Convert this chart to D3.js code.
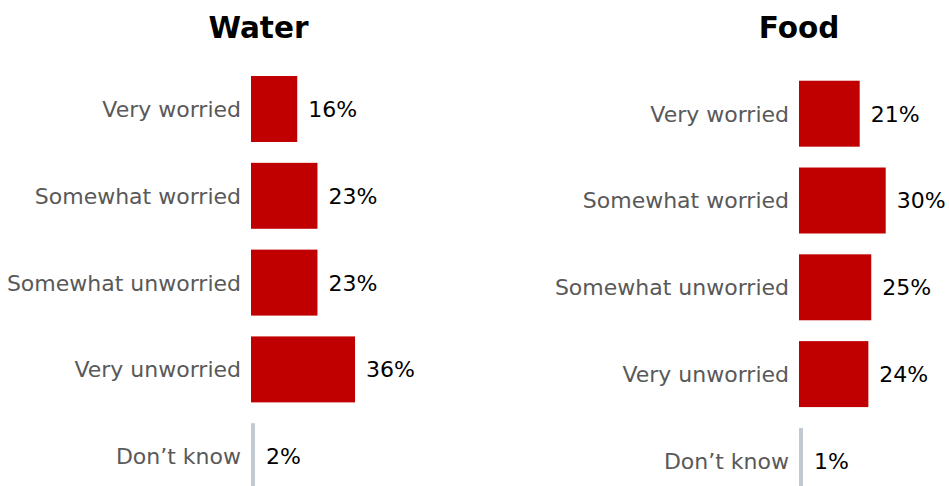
<!DOCTYPE html>
<html>
<head>
<meta charset="utf-8">
<script src="https://cdn.jsdelivr.net/npm/d3@7"></script>
<style>
  html, body { margin: 0; padding: 0; background: #ffffff; }
  svg { display: block; }
</style>
</head>
<body>
<svg id="chart" width="949" height="486"></svg>
<script>
// ---- data ----
const categories = ["Very worried", "Somewhat worried", "Somewhat unworried", "Very unworried", "Don\u2019t know"];
const panelTitles = ["Water", "Food"];
const waterValues = [16, 23, 23, 36, 2];
const foodValues = [21, 30, 25, 24, 1];

// ---- layout / style ----
const W = 949, H = 486;
const svg = d3.select("#chart");
const barColor = "#C00000";
const dkColor = "#C3C9D0";
const labelColor = "#595959";
const fontFamily = "'DejaVu Sans', Verdana, sans-serif";

const panels = [
  { title: panelTitles[0], values: waterValues, x0: 251, top: 65.6, titleX: 258.5 },
  { title: panelTitles[1], values: foodValues,  x0: 799, top: 70.3, titleX: 799 }
];

const pxPerPct = 2.89;
const step = 86.8;

panels.forEach(p => {
  const g = svg.append("g");
  const x = d3.scaleLinear().domain([0, 100]).range([p.x0, p.x0 + 100 * pxPerPct]);
  const y = d3.scaleBand().domain(categories)
    .range([p.top, p.top + categories.length * step])
    .paddingInner(0.24).paddingOuter(0.12);

  g.append("text")
    .attr("x", p.titleX).attr("y", 38)
    .attr("text-anchor", "middle")
    .attr("font-family", fontFamily)
    .attr("font-weight", "bold")
    .attr("font-size", 29.5)
    .attr("fill", "#000")
    .text(p.title);

  const data = categories.map((c, i) => ({ cat: c, v: p.values[i], dk: i === categories.length - 1 }));

  g.selectAll("rect.bar").data(data).enter().append("rect")
    .attr("class", "bar")
    .attr("x", x(0))
    .attr("y", d => y(d.cat))
    .attr("width", d => d.dk ? 4 : x(d.v) - x(0))
    .attr("height", y.bandwidth())
    .attr("fill", d => d.dk ? dkColor : barColor);

  g.selectAll("text.cat").data(data).enter().append("text")
    .attr("class", "cat")
    .attr("x", x(0) - 10)
    .attr("y", d => y(d.cat) + y.bandwidth() / 2)
    .attr("dy", "0.36em")
    .attr("text-anchor", "end")
    .attr("font-family", fontFamily)
    .attr("font-size", 22)
    .attr("fill", labelColor)
    .text(d => d.cat);

  g.selectAll("text.val").data(data).enter().append("text")
    .attr("class", "val")
    .attr("x", d => (d.dk ? x(0) + 4 : x(d.v)) + 11)
    .attr("y", d => y(d.cat) + y.bandwidth() / 2)
    .attr("dy", "0.36em")
    .attr("text-anchor", "start")
    .attr("font-family", fontFamily)
    .attr("font-size", 22)
    .attr("fill", "#000")
    .text(d => d.v + "%");
});
</script>
</body>
</html>
